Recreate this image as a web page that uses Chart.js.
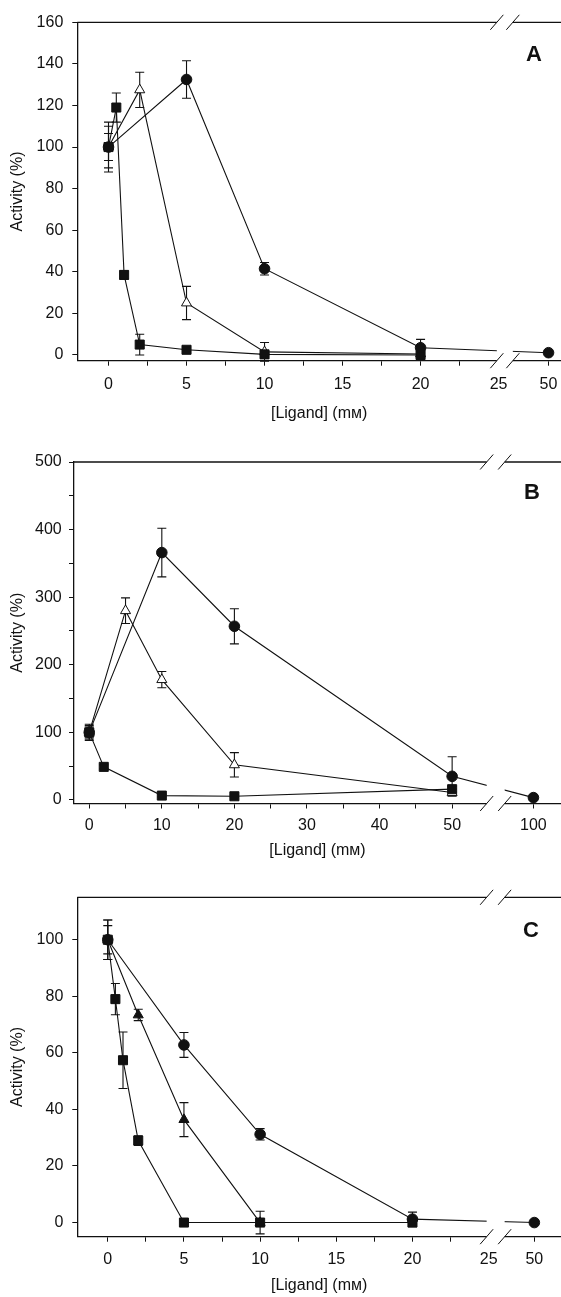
<!DOCTYPE html>
<html>
<head>
<meta charset="utf-8">
<script src="https://cdn.jsdelivr.net/npm/chart.js@4.4.1/dist/chart.umd.min.js"></script>
<style>
  body { margin: 0; background: #fff; }
  canvas { position: absolute; left: 0; }
</style>
</head>
<body>
<canvas id="chartA" width="561" height="430" style="top:0px"></canvas>
<canvas id="chartB" width="561" height="435" style="top:430px"></canvas>
<canvas id="chartC" width="561" height="432" style="top:865px"></canvas>
<script>
// Panel A
const aCircleX   = [0, 5, 10, 20, 50];
const aCircleY   = [100, 132.5, 41.5, 3.5, 1.1];
const aCircleErr = [10, 9, 3, 4, 0];
const aTriX      = [0, 2, 5, 10, 20];
const aTriY      = [100, 127.5, 25, 1.5, 0.5];
const aTriErr    = [12, 8.5, 8, 4.5, 0];
const aSqX       = [0, 0.5, 1, 2, 5, 10, 20];
const aSqY       = [100, 119, 38.5, 5, 2.5, 0.3, 0];
const aSqErr     = [6.5, 7, 2, 5, 1, 0, 0];
const aXTicks    = [0, 2.5, 5, 7.5, 10, 12.5, 15, 17.5, 20, 22.5, 25];
const aYTicks    = [0, 20, 40, 60, 80, 100, 120, 140, 160];

// Panel B
const bCircleX   = [0, 10, 20, 50, 100];
const bCircleY   = [100, 366, 257, 35, 3.5];
const bCircleErr = [12, 36, 26, 29, 0];
const bTriX      = [0, 5, 10, 20, 50];
const bTriY      = [100, 280, 178, 52, 11];
const bTriErr    = [10, 19, 12, 18, 5];
const bSqX       = [0, 2, 10, 20, 50];
const bSqY       = [100, 49, 6.5, 5.5, 16];
const bSqErr     = [8, 3, 2, 2, 4];
const bXTicks    = [0, 5, 10, 15, 20, 25, 30, 35, 40, 45, 50];
const bYTicks    = [0, 50, 100, 150, 200, 250, 300, 350, 400, 450, 500];

// Panel C
const cCircleX   = [0, 5, 10, 20, 50];
const cCircleY   = [100, 62.8, 31.2, 1.2, 0];
const cCircleErr = [7, 4.4, 2, 2.5, 0];
const cTriX      = [0, 2, 5, 10];
const cTriY      = [100, 73.4, 36.4, 0];
const cTriErr    = [5, 2, 6, 4];
const cSqX       = [0, 0.5, 1, 2, 5, 10, 20];
const cSqY       = [100, 79, 57.4, 29, 0, 0, 0];
const cSqErr     = [7, 5.5, 10, 1.7, 0, 0, 1.5];
const cXTicks    = [0, 2.5, 5, 7.5, 10, 12.5, 15, 17.5, 20, 22.5, 25];
const cYTicks    = [0, 20, 40, 60, 80, 100];

const FONT = "'Liberation Sans', 'DejaVu Sans', sans-serif";
const INK = '#111';

// error bars, drawn under the symbols
const errorBars = {
  id: 'errorBars',
  beforeDatasetsDraw(chart) {
    const { ctx, scales: { y } } = chart;
    ctx.save();
    ctx.strokeStyle = INK;
    ctx.lineWidth = 1.1;
    chart.data.datasets.forEach((ds, di) => {
      chart.getDatasetMeta(di).data.forEach((pt, i) => {
        const e = ds.errors[i];
        if (!e) return;
        const v = ds.data[i].y;
        const t = y.getPixelForValue(v + e), b = y.getPixelForValue(v - e);
        ctx.beginPath();
        ctx.moveTo(pt.x, t); ctx.lineTo(pt.x, b);
        ctx.moveTo(pt.x - 4.5, t); ctx.lineTo(pt.x + 4.5, t);
        ctx.moveTo(pt.x - 4.5, b); ctx.lineTo(pt.x + 4.5, b);
        ctx.stroke();
      });
    });
    ctx.restore();
  }
};

// top frame, axis break and panel letter
const extras = {
  id: 'extras',
  afterDraw(chart, args, o) {
    const { ctx, chartArea: a } = chart;
    const bx = chart.scales.x.getPixelForValue(o.breakPos);
    ctx.save();
    ctx.strokeStyle = INK;
    ctx.lineWidth = 1.3;
    ctx.beginPath(); ctx.moveTo(a.left, a.top); ctx.lineTo(a.right, a.top); ctx.stroke();
    ctx.fillStyle = '#fff';
    ctx.fillRect(bx - o.gap, a.top - 2, o.gap * 2, a.bottom - a.top + 4);
    ctx.lineWidth = 1;
    for (const y of [a.top, a.bottom]) {
      for (const dx of [-o.gap, o.gap]) {
        ctx.beginPath();
        ctx.moveTo(bx + dx - 6.5, y + 7.5);
        ctx.lineTo(bx + dx + 6.5, y - 7.5);
        ctx.stroke();
      }
    }
    ctx.fillStyle = INK;
    ctx.font = 'bold 22px ' + FONT;
    ctx.textAlign = 'center';
    ctx.textBaseline = 'middle';
    ctx.fillText(o.letter, a.right - o.letterDx, a.top + o.letterDy);
    ctx.restore();
  }
};

function makePanel(id, p) {
  const series = (xs, ys, errs, style, fill, r) => ({
    data: xs.map((x, i) => ({ x: x > p.cut ? p.farPos : x, y: ys[i] })),
    errors: errs,
    showLine: true,
    borderColor: INK,
    borderWidth: 1.1,
    pointStyle: style,
    pointRadius: r,
    pointHoverRadius: r,
    pointBackgroundColor: fill,
    pointBorderColor: INK,
    pointBorderWidth: 1
  });
  return new Chart(document.getElementById(id), {
    type: 'scatter',
    data: { datasets: p.series.map(s => series(...s)) },
    options: {
      responsive: false,
      animation: false,
      events: [],
      layout: { autoPadding: false, padding: { top: p.padTop, left: 0, right: 0, bottom: 0 } },
      plugins: {
        legend: { display: false },
        tooltip: { enabled: false },
        extras: { breakPos: p.breakPos, gap: p.gap, letter: p.letter, letterDx: p.letterDx, letterDy: p.letterDy }
      },
      scales: {
        x: {
          type: 'linear', min: p.xMin, max: p.xMax,
          afterBuildTicks: s => { s.ticks = p.xTicks.concat([p.farPos]).map(v => ({ value: v })); },
          afterFit: s => { s.height = p.xHeight; s.paddingLeft = 0; s.paddingRight = 0; },
          ticks: {
            autoSkip: false, maxRotation: 0, padding: p.xTickPad, color: INK,
            font: { family: FONT, size: 16 },
            callback: v => v === p.farPos ? p.farLabel : (v % p.xLabelStep === 0 ? String(v) : '')
          },
          grid: {
            drawOnChartArea: false, tickLength: 5, tickWidth: 1,
            tickColor: c => (c.tick && c.tick.value === p.hideTick) ? 'rgba(0,0,0,0)' : INK
          },
          border: { color: INK, width: 1.3 },
          title: {
            display: true, text: '[Ligand] (mᴍ)', color: INK,
            font: { family: FONT, size: 16 }, padding: { top: 0, bottom: p.xTitlePad }
          }
        },
        y: {
          type: 'linear', min: p.yMin, max: p.yMax,
          afterBuildTicks: s => { s.ticks = p.yTicks.map(v => ({ value: v })); },
          afterFit: s => { s.width = p.yWidth; s.paddingTop = 0; s.paddingBottom = 0; },
          ticks: {
            padding: p.yTickPad, color: INK,
            font: { family: FONT, size: 16 },
            callback: v => v % p.yLabelStep === 0 ? String(v) : ''
          },
          grid: { drawOnChartArea: false, tickLength: 5, tickWidth: 1, tickColor: INK },
          border: { color: INK, width: 1.3 },
          title: {
            display: true, text: 'Activity (%)', color: INK,
            font: { family: FONT, size: 16 }, padding: { top: p.yTitlePad, bottom: 0 }
          }
        }
      }
    },
    plugins: [errorBars, extras]
  });
}

makePanel('chartA', {
  series: [
    [aCircleX, aCircleY, aCircleErr, 'circle', INK, 5.3],
    [aSqX, aSqY, aSqErr, 'rect', INK, 6.4],
    [aTriX, aTriY, aTriErr, 'triangle', '#fff', 5.8]
  ],
  cut: 25, farPos: 28.2, farLabel: '50',
  xMin: -2, xMax: 29, yMin: -2.75, yMax: 160,
  xTicks: aXTicks, xLabelStep: 5, hideTick: 25,
  yTicks: aYTicks, yLabelStep: 20,
  padTop: 22.3, xHeight: 69.3, yWidth: 77.3,
  xTickPad: 9.3, xTitlePad: 6.4, yTickPad: 9, yTitlePad: 7.9,
  breakPos: 25.4, gap: 8, letter: 'A', letterDx: 27, letterDy: 32.7
});

makePanel('chartB', {
  series: [
    [bCircleX, bCircleY, bCircleErr, 'circle', INK, 5.3],
    [bSqX, bSqY, bSqErr, 'rect', INK, 6.4],
    [bTriX, bTriY, bTriErr, 'triangle', '#fff', 5.8]
  ],
  cut: 55, farPos: 61.2, farLabel: '100',
  xMin: -2.1, xMax: 65, yMin: -5.2, yMax: 500,
  xTicks: bXTicks, xLabelStep: 10, hideTick: null,
  yTicks: bYTicks, yLabelStep: 100,
  padTop: 32, xHeight: 61.5, yWidth: 74,
  xTickPad: 7.8, xTitlePad: 4.4, yTickPad: 7.3, yTitlePad: 7.9,
  breakPos: 56, gap: 9, letter: 'B', letterDx: 29, letterDy: 30.7
});

makePanel('chartC', {
  series: [
    [cCircleX, cCircleY, cCircleErr, 'circle', INK, 5.3],
    [cSqX, cSqY, cSqErr, 'rect', INK, 6.4],
    [cTriX, cTriY, cTriErr, 'triangle', INK, 5.8]
  ],
  cut: 25, farPos: 28, farLabel: '50',
  xMin: -2, xMax: 29.75, yMin: -5, yMax: 115,
  xTicks: cXTicks, xLabelStep: 5, hideTick: 25,
  yTicks: cYTicks, yLabelStep: 20,
  padTop: 32.3, xHeight: 60.3, yWidth: 77.3,
  xTickPad: 8.3, xTitlePad: 1.4, yTickPad: 9, yTitlePad: 8.4,
  breakPos: 25.46, gap: 9, letter: 'C', letterDx: 30, letterDy: 33.7
});
</script>
</body>
</html>
